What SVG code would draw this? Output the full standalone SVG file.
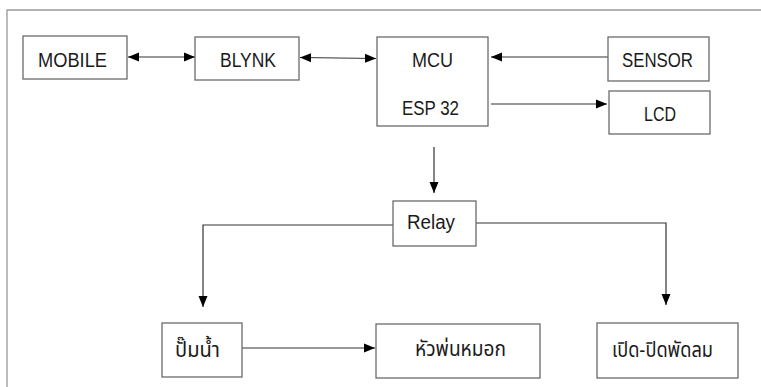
<svg xmlns="http://www.w3.org/2000/svg" width="761" height="387" viewBox="0 0 761 387">
<style>
.box{fill:#fff;stroke:#6b6b6b;stroke-width:1.3}
.t{font-family:"Liberation Sans","Noto Sans Thai","Noto Sans",sans-serif;font-size:20px;fill:#1a1a1a;text-anchor:middle}
.th{font-size:21px}
.c{fill:none;stroke:#333;stroke-width:1.2}
</style>
<defs>
<marker id="ah" markerUnits="userSpaceOnUse" markerWidth="12" markerHeight="12" viewBox="0 0 12 12" refX="11" refY="6" orient="auto-start-reverse">
<path d="M0,1.5 L11,6 L0,10.5 Z" fill="#000"/>
</marker>
</defs>
<rect width="761" height="387" fill="#fff"/>
<path d="M7,400 V10 H770" fill="none" stroke="#999" stroke-width="1.3"/>
<g id="connectors">
<line class="c" x1="128" y1="57" x2="195" y2="57" marker-start="url(#ah)" marker-end="url(#ah)"/>
<line class="c" x1="300" y1="57.5" x2="376" y2="58.5" marker-start="url(#ah)" marker-end="url(#ah)"/>
<line class="c" x1="608" y1="57" x2="491" y2="57" marker-end="url(#ah)"/>
<line class="c" x1="491" y1="104" x2="607" y2="104" marker-end="url(#ah)"/>
<line class="c" x1="434" y1="147" x2="434" y2="193" marker-end="url(#ah)"/>
<polyline class="c" points="393,225 203,225 203,307" marker-end="url(#ah)"/>
<polyline class="c" points="476,223 666,223 666,305" marker-end="url(#ah)"/>
<line class="c" x1="242" y1="348" x2="375" y2="348" marker-end="url(#ah)"/>
</g>
<g id="mobile"><rect class="box" x="23" y="36" width="104" height="43"/><text class="t" x="72.5" y="67" textLength="69" lengthAdjust="spacingAndGlyphs">MOBILE</text></g>
<g id="blynk"><rect class="box" x="195" y="37" width="104" height="43"/><text class="t" x="248" y="67" textLength="56" lengthAdjust="spacingAndGlyphs">BLYNK</text></g>
<g id="mcu"><rect class="box" x="377" y="37" width="111" height="89"/><text class="t" x="432.5" y="67" textLength="41" lengthAdjust="spacingAndGlyphs">MCU</text><text class="t" x="430.5" y="115" textLength="57" lengthAdjust="spacingAndGlyphs">ESP 32</text></g>
<g id="sensor"><rect class="box" x="608" y="37" width="101" height="44"/><text class="t" x="657.5" y="67" textLength="71" lengthAdjust="spacingAndGlyphs">SENSOR</text></g>
<g id="lcd"><rect class="box" x="609" y="91" width="101" height="43"/><text class="t" x="660" y="121" textLength="32" lengthAdjust="spacingAndGlyphs">LCD</text></g>
<g id="relay"><rect class="box" x="393" y="201" width="83" height="45"/><text class="t" x="431" y="229" textLength="48" lengthAdjust="spacingAndGlyphs">Relay</text></g>
<g id="pump"><rect class="box" x="162" y="323" width="80" height="54"/><text class="t th" x="197.5" y="357" textLength="45" lengthAdjust="spacingAndGlyphs">ปั๊มน้ำ</text></g>
<g id="mist"><rect class="box" x="376" y="324" width="164" height="54"/><text class="t th" x="460.5" y="356" textLength="91" lengthAdjust="spacingAndGlyphs">หัวพ่นหมอก</text></g>
<g id="fan"><rect class="box" x="597" y="323" width="141" height="55"/><text class="t th" x="662.5" y="357" textLength="101" lengthAdjust="spacingAndGlyphs">เปิด-ปิดพัดลม</text></g>
</svg>
